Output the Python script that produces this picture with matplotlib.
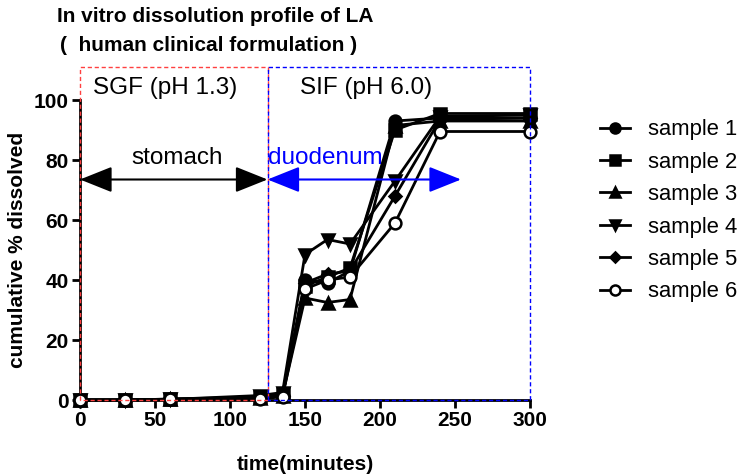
import matplotlib
matplotlib.use("Agg")
import matplotlib.pyplot as plt

# dissolution data
time_min = [0, 30, 60, 120, 135, 150, 165, 180, 210, 240, 300]
sample1 = [0, 0, 0.3, 0.8, 1.5, 40, 39, 43, 93, 94, 94]
sample2 = [0, 0, 0.3, 1.0, 2.0, 38, 41, 44, 90, 95.5, 95.5]
sample3 = [0, 0, 0.2, 0.8, 1.5, 34, 32.5, 33.5, 91.5, 93, 93]
sample4 = [0, 0, 0.2, 1.5, 2.5, 48.5, 53.5, 52, 73, 94.5, 95]
sample5 = [0, 0, 0.2, 0.8, 1.5, 39, 42, 43, 68, 93.5, 94]
sample6 = [0, 0, 0.2, 0.5, 1.0, 37, 40, 41, 59, 89.5, 89.5]
labels = ["sample 1", "sample 2", "sample 3", "sample 4", "sample 5", "sample 6"]

# phases
sgf_range = (0, 125)
sif_range = (125, 300)
box_top = 111
arrow_y = 73.5
duo_arrow_end = 254

plt.rcParams["font.family"] = ["Liberation Sans", "DejaVu Sans"]

fig = plt.figure(figsize=(7.45, 4.74), dpi=100)
ax = fig.add_axes([80 / 745, 74 / 474, 450 / 745, 300 / 474])

styles = [
    dict(marker="o", mfc="black"),
    dict(marker="s", mfc="black"),
    dict(marker="^", mfc="black"),
    dict(marker="v", mfc="black"),
    dict(marker="D", mfc="black", ms=6),
    dict(marker="o", mfc="white"),
]
for ys, lab, st in zip([sample1, sample2, sample3, sample4, sample5, sample6], labels, styles):
    kw = dict(ms=8.5, mew=1.8)
    kw.update(st)
    ax.plot(time_min, ys, color="black", lw=2, mec="black", label=lab,
            clip_on=False, zorder=3, **kw)

ax.set_xlim(0, 300)
ax.set_ylim(0, 100)
ax.set_xticks([0, 50, 100, 150, 200, 250, 300])
ax.set_yticks([0, 20, 40, 60, 80, 100])
for s in ["top", "right"]:
    ax.spines[s].set_visible(False)
for s in ["left", "bottom"]:
    ax.spines[s].set_linewidth(2)
ax.tick_params(width=2, length=6, labelsize=15, pad=2)
for t in ax.get_xticklabels() + ax.get_yticklabels():
    t.set_fontweight("bold")

ax.set_xlabel("time(minutes)", fontsize=15, fontweight="bold", labelpad=18)
ax.set_ylabel("cumulative % dissolved", fontsize=15, fontweight="bold", labelpad=5)

# phase boxes
ax.plot([sgf_range[0], sgf_range[0], sgf_range[1], sgf_range[1], sgf_range[0]],
        [0, box_top, box_top, 0, 0], color="#ff4040", ls=(0, (3, 2)), lw=1,
        clip_on=False, zorder=4)
ax.plot([sif_range[0], sif_range[0], sif_range[1], sif_range[1], sif_range[0]],
        [0, box_top, box_top, 0, 0], color="#0000ff", ls=(0, (3, 2)), lw=1,
        clip_on=False, zorder=4)

ax.text(8.5, 104, "SGF (pH 1.3)", fontsize=17.5, va="center", ha="left")
ax.text(146.5, 104, "SIF (pH 6.0)", fontsize=17.5, va="center", ha="left")
ax.text(65, 80.7, "stomach", fontsize=17.5, va="center", ha="center")
ax.text(125.5, 80.7, "duodenum", fontsize=17.5, va="center", ha="left", color="#0000ff")

ax.annotate("", xy=(sgf_range[0], arrow_y), xytext=(sgf_range[1], arrow_y),
            arrowprops=dict(arrowstyle="<|-|>,head_length=1.0,head_width=0.4",
                            color="black", lw=1.5, shrinkA=0, shrinkB=0,
                            mutation_scale=20))
ax.annotate("", xy=(sif_range[0], arrow_y), xytext=(duo_arrow_end, arrow_y),
            arrowprops=dict(arrowstyle="<|-|>,head_length=1.0,head_width=0.4",
                            color="#0000ff", lw=1.5, shrinkA=0, shrinkB=0,
                            mutation_scale=20))

fig.text(215 / 745, 1 - 16 / 474, "In vitro dissolution profile of LA",
         fontsize=15, fontweight="bold", ha="center", va="center")
fig.text(209 / 745, 1 - 45 / 474, "(  human clinical formulation )",
         fontsize=15, fontweight="bold", ha="center", va="center")

ax.legend(loc="upper left", bbox_to_anchor=(1.136, 0.965), frameon=False,
          fontsize=15.8, handlelength=1.37, labelspacing=0.52, handletextpad=0.82,
          markerscale=0.85, borderaxespad=0)

fig.savefig("out.png", dpi=100)
